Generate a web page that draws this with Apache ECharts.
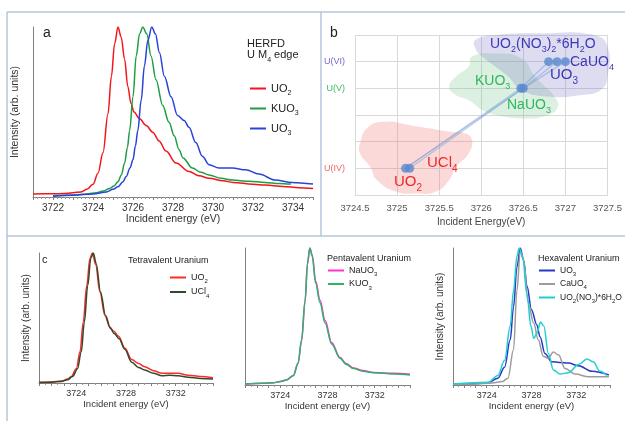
<!DOCTYPE html>
<html><head><meta charset="utf-8">
<script src="https://cdn.jsdelivr.net/npm/echarts@6/dist/echarts.min.js"></script>
<style>html,body{margin:0;padding:0;background:#fff}#c{width:625px;height:421px}</style>
</head><body><div id="c"></div>
<script>
// ---------- Panel a : HERFD U M4 edge ----------
const aUO2_E = [3721.0,3722.0,3722.5,3723.0,3723.4,3723.7,3724.0,3724.25,3724.5,3724.75,3724.92,3725.08,3725.25,3725.41,3725.58,3725.74,3725.9,3726.05,3726.33,3726.66,3727.0,3727.3,3727.65,3728.15,3728.8,3729.3,3729.8,3730.5,3731.0,3732.0,3732.6,3733.5,3734.3,3735.0];
const aUO2_I = [0.018,0.019,0.02,0.025,0.03,0.045,0.075,0.14,0.26,0.49,0.71,0.90,1.0,0.94,0.81,0.65,0.55,0.50,0.46,0.42,0.38,0.33,0.27,0.20,0.15,0.125,0.11,0.095,0.086,0.075,0.07,0.062,0.055,0.05];
const aKUO3_E = [3722.0,3723.0,3723.7,3724.17,3724.5,3724.83,3725.05,3725.25,3725.42,3725.58,3725.72,3725.83,3726.0,3726.16,3726.33,3726.49,3726.69,3726.9,3727.15,3727.48,3727.8,3728.06,3728.3,3728.5,3728.97,3729.4,3729.8,3730.4,3730.97,3731.8,3732.6,3733.3,3733.9];
const aKUO3_I = [0.008,0.012,0.018,0.025,0.035,0.05,0.065,0.09,0.13,0.20,0.29,0.39,0.59,0.83,0.96,1.0,0.96,0.83,0.69,0.54,0.44,0.36,0.28,0.23,0.17,0.145,0.13,0.11,0.10,0.092,0.086,0.08,0.076];
const aUO3_E = [3722.0,3723.0,3724.0,3724.67,3725.0,3725.25,3725.5,3725.66,3725.85,3726.0,3726.12,3726.24,3726.41,3726.57,3726.74,3726.94,3727.12,3727.32,3727.57,3727.9,3728.23,3728.56,3728.8,3729.14,3729.47,3729.8,3730.3,3730.97,3731.63,3732.3,3733.1,3733.95,3735.0];
const aUO3_I = [0.005,0.01,0.018,0.03,0.045,0.06,0.09,0.12,0.17,0.22,0.30,0.39,0.57,0.77,0.92,1.0,0.96,0.85,0.71,0.59,0.48,0.45,0.41,0.32,0.24,0.19,0.17,0.17,0.16,0.135,0.10,0.086,0.076];
const aTickLabels = [3722,3724,3726,3728,3730,3732,3734];

// ---------- Panel b : edge position vs oxidation state ----------
const bNames  = ['UO2','UCl4','KUO3','NaUO3','UO3','UO2(NO3)2*6H2O','CaUO4'];
const bEnergy = [3725.1,3725.15,3726.47,3726.5,3726.8,3726.9,3727.0];
const bLevel  = [1,1,4,4,5,5,5];
const bLevelTicks = [1,4,5];
const bLevelLabels = ['U(IV)','U(V)','U(VI)'];
const bXTicks = [3724.5,3725,3725.5,3726,3726.5,3727,3727.5];
const blobIV = [[3724.56,1.94],[3724.66,2.56],[3724.87,2.75],[3725.15,2.62],[3725.38,2.5],[3725.62,2.37],[3725.81,2.31],[3725.89,2.06],[3725.85,1.56],[3725.7,1.06],[3725.62,0.56],[3725.46,0.12],[3725.23,0.06],[3724.99,0.12],[3724.76,0.56],[3724.68,1.06],[3724.56,1.56]];
const blobV  = [[3725.89,5.19],[3726.17,5.31],[3726.48,5.12],[3726.64,4.44],[3726.76,4.06],[3726.87,3.69],[3726.91,3.31],[3726.79,3.0],[3726.52,2.87],[3726.17,3.0],[3726.01,3.19],[3725.85,3.56],[3725.7,3.75],[3725.62,4.06],[3725.7,4.44],[3725.85,4.81]];
const blobVI = [[3725.93,5.81],[3726.17,6.0],[3726.72,6.06],[3727.34,6.0],[3727.5,5.56],[3727.5,4.44],[3727.42,3.94],[3727.19,3.75],[3726.79,3.69],[3726.48,3.94],[3726.32,4.44],[3726.17,4.81],[3726.01,5.19],[3725.93,5.5]];

// ---------- Panel c1 : tetravalent ----------
const c1UO2_E = [3721.0,3722.0,3722.8,3723.3,3723.6,3724.0,3724.3,3724.56,3724.84,3725.1,3725.3,3725.56,3725.9,3726.3,3726.7,3727.0,3727.4,3727.9,3728.46,3729.0,3729.5,3730.2,3730.9,3731.5,3732.2,3733.0,3734.0,3735.0];
const c1UO2_I = [0.005,0.008,0.015,0.03,0.05,0.11,0.24,0.47,0.75,0.96,1.0,0.91,0.70,0.52,0.43,0.40,0.36,0.27,0.18,0.15,0.125,0.095,0.075,0.075,0.075,0.06,0.05,0.04];
const c1UCl4_E = [3721.0,3722.0,3722.8,3723.3,3723.7,3724.1,3724.4,3724.65,3724.92,3725.17,3725.37,3725.6,3725.95,3726.35,3726.75,3727.05,3727.45,3727.9,3728.46,3729.0,3729.5,3730.2,3730.9,3731.5,3732.2,3733.0,3734.0,3735.0];
const c1UCl4_I = [0.004,0.006,0.012,0.025,0.05,0.11,0.24,0.47,0.75,0.96,1.0,0.92,0.70,0.52,0.42,0.38,0.34,0.26,0.16,0.12,0.10,0.075,0.055,0.06,0.055,0.045,0.035,0.03];

// ---------- Panel c2 : pentavalent ----------
const c2_E = [3721.0,3722.5,3723.4,3724.0,3724.5,3725.1,3725.5,3725.8,3726.1,3726.3,3726.5,3726.7,3727.0,3727.36,3727.8,3728.35,3729.06,3729.6,3730.2,3731.0,3731.9,3732.8,3733.6,3735.0];
const c2KUO3_I  = [0.007,0.012,0.017,0.025,0.036,0.07,0.16,0.33,0.62,0.89,1.0,0.94,0.74,0.60,0.45,0.30,0.195,0.15,0.12,0.10,0.09,0.085,0.08,0.073];
const c2NaUO3_I = [0.007,0.012,0.017,0.025,0.036,0.068,0.155,0.32,0.61,0.88,1.0,0.95,0.76,0.62,0.47,0.31,0.20,0.155,0.125,0.105,0.092,0.088,0.085,0.078];

// ---------- Panel c3 : hexavalent ----------
const c3UO3_E = [3721.0,3723.0,3724.15,3725.0,3725.6,3726.1,3726.4,3726.7,3727.0,3727.3,3727.6,3728.0,3728.47,3728.77,3729.2,3729.8,3730.5,3731.3,3732.2,3733.4,3734.9];
const c3UO3_I = [0.007,0.01,0.017,0.05,0.13,0.33,0.57,0.86,1.0,0.91,0.72,0.55,0.44,0.35,0.23,0.17,0.165,0.16,0.14,0.10,0.073];
const c3CaUO4_E = [3721.0,3723.0,3724.5,3725.4,3725.9,3726.4,3726.7,3727.0,3727.3,3727.7,3728.2,3728.6,3729.05,3729.5,3729.95,3730.4,3731.0,3731.9,3733.1,3734.9];
const c3CaUO4_I = [0.005,0.008,0.015,0.025,0.05,0.26,0.69,0.98,0.91,0.60,0.45,0.33,0.21,0.195,0.24,0.22,0.12,0.08,0.06,0.06];
const c3Nit_E = [3721.0,3724.15,3725.0,3725.6,3726.1,3726.4,3726.7,3726.9,3727.2,3727.6,3727.95,3728.2,3728.5,3728.8,3729.1,3729.5,3729.95,3730.55,3731.3,3732.2,3732.95,3733.5,3734.1,3734.7];
const c3Nit_I = [0.007,0.02,0.07,0.18,0.43,0.69,0.94,1.0,0.94,0.66,0.43,0.34,0.38,0.46,0.43,0.23,0.11,0.08,0.09,0.15,0.19,0.17,0.10,0.07];
const cTickLabels = [3724,3728,3732];

// ---------- helpers ----------
const FONT = 'Liberation Sans, Arial, sans-serif';
function pairs(E, I) { return E.map((e, i) => [e, I[i]]); }
function chem(s) {
  let out = '', buf = '';
  for (let i = 0; i < s.length; i++) {
    const ch = s[i];
    const isSub = /[0-9]/.test(ch) && i > 0 && /[A-Za-z)]/.test(s[i - 1]);
    if (isSub) { if (buf) { out += '{m|' + buf + '}'; buf = ''; } out += '{s|' + ch + '}'; }
    else buf += ch;
  }
  if (buf) out += '{m|' + buf + '}';
  return out;
}
function richFor(size, color) {
  return {
    m: { fontSize: size, lineHeight: Math.round(size * 1.5), color: color, fontFamily: FONT },
    s: { fontSize: Math.round(size * 0.65), verticalAlign: 'bottom', color: color, fontFamily: FONT }
  };
}
function strip(n) { return n.split(':')[1]; }

function specX(gi, labels, minorSplit, fs, nameGap) {
  return {
    type: 'value', gridIndex: gi, min: 3721, max: 3735, interval: 1,
    axisLine: { show: true, onZero: false, lineStyle: { color: '#808080', width: 1 } },
    axisTick: { show: true, length: 3, lineStyle: { color: '#808080' } },
    minorTick: { show: true, splitNumber: minorSplit, length: 2, lineStyle: { color: '#999' } },
    splitLine: { show: false },
    axisLabel: { show: true, showMinLabel: true, showMaxLabel: true, fontSize: fs, color: '#333', margin: 6, fontFamily: FONT,
      formatter: v => labels.indexOf(Math.round(v * 1000) / 1000) >= 0 ? String(Math.round(v)) : '' },
    name: 'Incident energy (eV)', nameLocation: 'middle', nameGap: nameGap,
    nameTextStyle: { fontSize: fs + 0.5, color: '#333', fontFamily: FONT }
  };
}
function specY(gi, showName, fs, nameGap) {
  return {
    type: 'value', gridIndex: gi, min: 0, max: 1.0,
    axisLine: { show: true, lineStyle: { color: '#808080', width: 1 } },
    axisTick: { show: false }, axisLabel: { show: false }, splitLine: { show: false },
    name: showName ? 'Intensity (arb. units)' : '', nameLocation: 'middle', nameGap: nameGap, nameRotate: 90,
    nameTextStyle: { fontSize: fs, color: '#333', fontFamily: FONT }
  };
}
function spec(name, gi, E, I, color, w) {
  return { name: name, type: 'line', xAxisIndex: gi, yAxisIndex: gi, data: pairs(E, I),
    showSymbol: false, symbol: 'none', smooth: 0.35, smoothMonotone: 'x',
    lineStyle: { color: color, width: w || 1.5 }, itemStyle: { color: color }, silent: true, animation: false };
}
function legendBlock(names, left, top, fs, gap) {
  return { show: true, data: names, left: left, top: top, orient: 'vertical', icon: 'rect',
    itemWidth: 16, itemHeight: 2, itemGap: gap, padding: 0, selectedMode: false,
    formatter: n => chem(strip(n)),
    textStyle: { fontSize: fs, color: '#222', fontFamily: FONT, rich: richFor(fs, '#222'), padding: [0, 0, 0, 0] } };
}
function txt(x, y, text, size, color, extra) {
  return Object.assign({ type: 'text', x: x, y: y, z: 50,
    style: { text: text, fill: color, font: size + 'px ' + FONT, rich: richFor(size, color), verticalAlign: 'middle' } }, extra || {});
}
function blob(pts, fill) {
  return { type: 'custom', xAxisIndex: 1, yAxisIndex: 1, data: [pts[0]], silent: true, clip: false, z: 1,
    renderItem: (p, api) => ({ type: 'polygon', shape: { points: pts.map(q => api.coord(q)), smooth: 0.5 }, style: { fill: fill } }) };
}

const bPts = bEnergy.map((e, i) => [e, bLevel[i]]);
const bLineSets = [[0, 2, 4], [1, 3, 6], [0, 3, 5]];

const bordCol = '#b3c6dc';
const option = {
  animation: false,
  textStyle: { fontFamily: FONT },
  grid: [
    { left: 33, top: 27, width: 280, height: 170 },
    { left: 355, top: 35, width: 255, height: 160 },
    { left: 39, top: 253, width: 174, height: 130 },
    { left: 245, top: 248, width: 165, height: 137 },
    { left: 453, top: 248, width: 157, height: 137 }
  ],
  xAxis: [
    specX(0, aTickLabels, 5, 10, 8),
    { type: 'value', gridIndex: 1, min: 3724.5, max: 3727.5, interval: 0.5,
      axisLine: { show: true, lineStyle: { color: '#d9d9d9' } }, axisTick: { show: false },
      splitLine: { show: true, lineStyle: { color: '#d9d9d9', width: 1 } },
      axisLabel: { fontSize: 9.5, color: '#555', margin: 8, fontFamily: FONT,
        formatter: v => bXTicks.indexOf(Math.round(v * 10) / 10) >= 0 ? String(Math.round(v * 10) / 10) : '' },
      name: 'Incident Energy(eV)', nameLocation: 'middle', nameGap: 22,
      nameTextStyle: { fontSize: 10, color: '#444', fontFamily: FONT } },
    specX(2, cTickLabels, 2, 9, 6),
    specX(3, cTickLabels, 2, 9, 6),
    specX(4, cTickLabels, 2, 9, 6)
  ],
  yAxis: [
    specY(0, true, 10.5, 12),
    { type: 'value', gridIndex: 1, min: 0, max: 6, interval: 1,
      axisLine: { show: false }, axisTick: { show: false },
      splitLine: { show: true, lineStyle: { color: '#d9d9d9', width: 1 } },
      axisLabel: { margin: 10, fontFamily: FONT,
        formatter: v => { const k = bLevelTicks.indexOf(Math.round(v)); return k >= 0 ? '{l' + k + '|' + bLevelLabels[k] + '}' : ''; },
        rich: { l0: { color: '#f06a6a', fontSize: 9 }, l1: { color: '#3cb86a', fontSize: 9 }, l2: { color: '#7468cc', fontSize: 9 } } } },
    specY(2, true, 10, 8),
    specY(3, false, 10, 8),
    specY(4, true, 10, 8)
  ],
  legend: [
    legendBlock(['a:UO2', 'a:KUO3', 'a:UO3'], 250, 83, 11, 6),
    legendBlock(['c1:UO2', 'c1:UCl4'], 170, 273, 9, 3),
    legendBlock(['c2:NaUO3', 'c2:KUO3'], 328, 266, 9, 2),
    legendBlock(['c3:UO3', 'c3:CaUO4', 'c3:UO2(NO3)*6H2O'], 539, 266, 8.5, 2.5)
  ],
  series: [
    spec('a:UO2', 0, aUO2_E, aUO2_I, '#f2161c'),
    spec('a:KUO3', 0, aKUO3_E, aKUO3_I, '#1d9e45'),
    spec('a:UO3', 0, aUO3_E, aUO3_I, '#2b42d8'),
    blob(blobIV, 'rgba(245,120,120,0.28)'),
    blob(blobV, 'rgba(110,195,135,0.25)'),
    blob(blobVI, 'rgba(120,115,200,0.25)'),
    ...bLineSets.map(set => ({ type: 'line', xAxisIndex: 1, yAxisIndex: 1, data: set.map(k => bPts[k]),
      symbol: 'none', silent: true, z: 2, lineStyle: { color: 'rgba(110,150,210,0.45)', width: 1.3 } })),
    { type: 'scatter', xAxisIndex: 1, yAxisIndex: 1, data: bPts, symbolSize: 9, z: 3,
      itemStyle: { color: '#5a88cf' }, silent: true },
    spec('c1:UO2', 2, c1UO2_E, c1UO2_I, '#ff2a2a'),
    spec('c1:UCl4', 2, c1UCl4_E, c1UCl4_I, '#2f4a2c'),
    spec('c2:NaUO3', 3, c2_E, c2NaUO3_I, '#ff33cc'),
    spec('c2:KUO3', 3, c2_E, c2KUO3_I, '#2fb26c'),
    spec('c3:UO3', 4, c3UO3_E, c3UO3_I, '#2638c4'),
    spec('c3:CaUO4', 4, c3CaUO4_E, c3CaUO4_I, '#9c9c9c'),
    spec('c3:UO2(NO3)*6H2O', 4, c3Nit_E, c3Nit_I, '#22cdd2')
  ],
  graphic: [
    { type: 'line', shape: { x1: 7, y1: 12, x2: 625, y2: 12 }, style: { stroke: bordCol, lineWidth: 1.5 } },
    { type: 'line', shape: { x1: 7, y1: 12, x2: 7, y2: 421 }, style: { stroke: bordCol, lineWidth: 1.5 } },
    { type: 'line', shape: { x1: 7, y1: 236, x2: 625, y2: 236 }, style: { stroke: bordCol, lineWidth: 1.5 } },
    { type: 'line', shape: { x1: 321, y1: 12, x2: 321, y2: 236 }, style: { stroke: bordCol, lineWidth: 1.5 } },
    txt(43, 33, 'a', 14, '#222'),
    txt(330, 33, 'b', 14, '#222'),
    txt(42, 260, 'c', 11, '#222'),
    txt(247, 44, 'HERFD', 11, '#222'),
    txt(247, 55, chem('U M4 edge'), 11, '#222'),
    txt(128, 261, 'Tetravalent Uranium', 9, '#222'),
    txt(327, 259, 'Pentavalent Uranium', 9, '#222'),
    txt(538, 259, 'Hexavalent Uranium', 9, '#222'),
    txt(490, 44, chem('UO2(NO3)2*6H2O'), 14, '#3f37b8'),
    txt(570, 62, chem('CaUO4'), 14, '#3f37b8'),
    txt(550, 75, chem('UO3'), 15, '#3f37b8'),
    txt(475, 81, chem('KUO3'), 14, '#2eb85c'),
    txt(507, 105, chem('NaUO3'), 14, '#2eb85c'),
    txt(427, 163, chem('UCl4'), 15, '#f02828'),
    txt(394, 182, chem('UO2'), 15, '#f02828')
  ]
};
const chart = echarts.init(document.getElementById('c'), null, { renderer: 'canvas' });
chart.setOption(option);
</script>
</body></html>
